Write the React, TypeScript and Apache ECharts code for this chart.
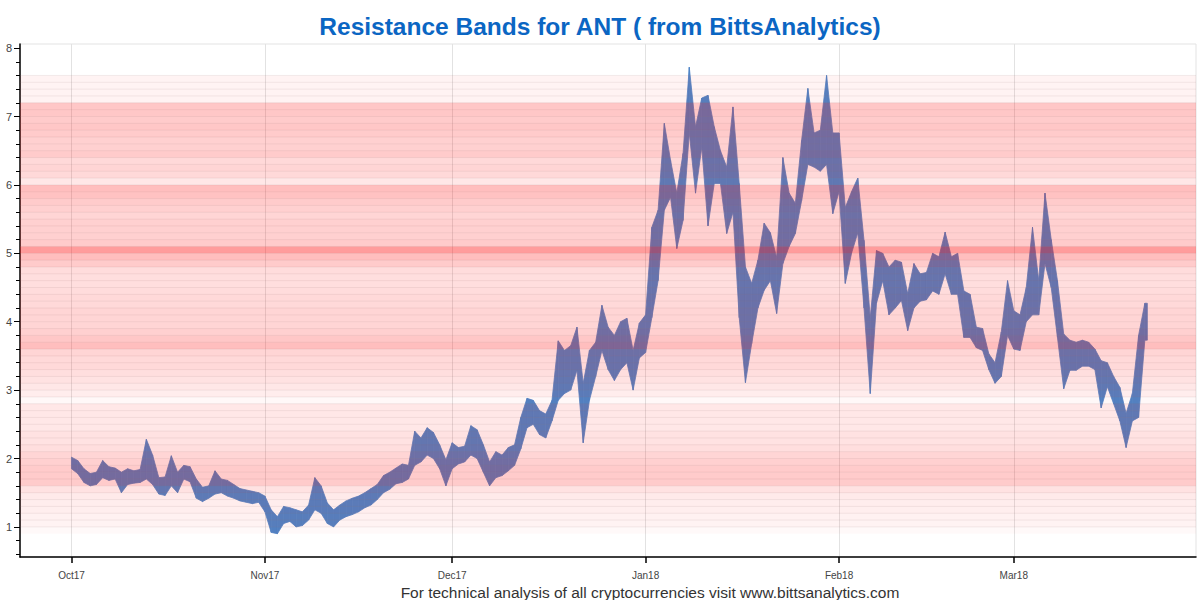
import React, { useEffect, useRef } from "react";
import * as echarts from "echarts";

const DAY = 86400000;
const START = Date.UTC(2017, 9, 1);
const X_MIN = START - 8.25 * DAY;
const X_MAX = START + 180.2 * DAY;

const TITLE = "Resistance Bands for ANT ( from BittsAnalytics)";
const FOOTER = "For technical analysis of all cryptocurrencies visit www.bittsanalytics.com";

// Month tick positions and labels
const monthTicks = [
  Date.UTC(2017, 9, 1),
  Date.UTC(2017, 10, 1),
  Date.UTC(2017, 11, 1),
  Date.UTC(2018, 0, 1),
  Date.UTC(2018, 1, 1),
  Date.UTC(2018, 2, 1),
];
const monthLabels = ["Oct17", "Nov17", "Dec17", "Jan18", "Feb18", "Mar18"];

const yLabels = [1, 2, 3, 4, 5, 6, 7, 8];
const yMinorTicks = [
  0.6, 0.8, 1.0, 1.2, 1.4, 1.6, 1.8, 2.0, 2.2, 2.4, 2.6, 2.8, 3.0, 3.2, 3.4, 3.6, 3.8,
  4.0, 4.2, 4.4, 4.6, 4.8, 5.0, 5.2, 5.4, 5.6, 5.8, 6.0, 6.2, 6.4, 6.6, 6.8, 7.0, 7.2,
  7.4, 7.6, 7.8, 8.0,
];

// Daily low / high of ANT price (USD), one entry per day starting 1 Oct 2017
const dailyLow = [
  1.85, 1.78, 1.65, 1.60, 1.62, 1.72, 1.68, 1.70, 1.50, 1.62,
  1.64, 1.65, 1.70, 1.62, 1.48, 1.46, 1.60, 1.50, 1.70, 1.66,
  1.42, 1.37, 1.42, 1.48, 1.50, 1.45, 1.42, 1.38, 1.36, 1.34,
  1.36, 1.22, 0.92, 0.90, 1.05, 1.08, 1.00, 1.02, 1.10, 1.25,
  1.20, 1.05, 1.00, 1.10, 1.15, 1.18, 1.22, 1.28, 1.32, 1.40,
  1.50, 1.55, 1.63, 1.65, 1.70, 1.90, 1.95, 2.05, 2.00, 1.85,
  1.60, 1.85, 1.92, 1.95, 2.05, 2.00, 1.80, 1.60, 1.72, 1.75,
  1.82, 1.90, 2.14, 2.45, 2.50, 2.35, 2.30, 2.55, 2.85, 2.95,
  3.00, 3.29, 2.23, 2.85, 3.20, 3.58, 3.30, 3.14, 3.30, 3.40,
  3.00, 3.47, 3.55, 4.06, 4.60, 5.63, 5.82, 5.07, 5.48, 6.76,
  5.88, 6.55, 5.40, 6.02, 6.02, 5.29, 5.60, 4.06, 3.11, 3.68,
  4.20, 4.46, 4.60, 4.12, 4.85, 5.10, 5.29, 5.77, 6.30, 6.26,
  6.20, 6.30, 5.58, 5.90, 4.56, 5.00, 5.30, 4.20, 2.95, 4.27,
  4.60, 4.10, 4.20, 4.31, 3.87, 4.20, 4.30, 4.32, 4.45, 4.40,
  4.70, 4.40, 4.40, 3.77, 3.77, 3.62, 3.58, 3.30, 3.10, 3.20,
  3.80, 3.60, 3.58, 4.00, 4.10, 4.10, 4.85, 4.50, 3.77, 3.02,
  3.29, 3.29, 3.35, 3.35, 3.30, 2.74, 3.05, 2.80, 2.55, 2.16,
  2.55, 2.60, 3.73,
];
const dailyHigh = [
  2.02, 1.97, 1.85, 1.78, 1.80, 1.97, 1.88, 1.86, 1.80, 1.85,
  1.82, 1.84, 2.28, 2.05, 1.72, 1.73, 2.04, 1.80, 1.90, 1.88,
  1.70, 1.58, 1.60, 1.82, 1.70, 1.68, 1.62, 1.56, 1.54, 1.52,
  1.50, 1.45, 1.25, 1.15, 1.30, 1.28, 1.25, 1.22, 1.32, 1.72,
  1.60, 1.35, 1.25, 1.32, 1.38, 1.42, 1.45, 1.50, 1.56, 1.62,
  1.75, 1.80, 1.86, 1.92, 1.90, 2.40, 2.30, 2.45, 2.38, 2.20,
  1.98, 2.23, 2.16, 2.18, 2.48, 2.42, 2.20, 1.95, 2.10, 2.05,
  2.16, 2.20, 2.60, 2.88, 2.85, 2.70, 2.65, 2.85, 3.72, 3.58,
  3.65, 3.92, 3.10, 3.58, 3.70, 4.24, 3.92, 3.80, 4.00, 4.05,
  3.58, 3.98, 4.10, 5.38, 5.63, 6.90, 6.36, 5.88, 6.46, 7.72,
  6.85, 7.27, 7.31, 6.85, 6.50, 6.26, 7.14, 6.02, 4.80, 4.56,
  4.90, 5.44, 5.30, 4.94, 6.40, 5.88, 5.73, 6.65, 7.41, 6.76,
  6.80, 7.60, 6.76, 6.76, 5.67, 5.90, 6.10, 5.19, 4.06, 5.04,
  5.00, 4.80, 4.90, 4.87, 4.41, 4.85, 4.70, 4.72, 5.00, 4.95,
  5.31, 4.95, 5.00, 4.45, 4.40, 3.92, 3.90, 3.53, 3.40, 3.85,
  4.60, 4.16, 4.10, 4.50, 5.38, 4.60, 5.88, 5.20, 4.60, 3.82,
  3.73, 3.70, 3.73, 3.70, 3.60, 3.43, 3.40, 3.20, 3.04, 2.66,
  2.95, 3.80, 4.27,
];

// Resistance bands: lower edge of each 0.1-wide band and its strength (opacity)
const bandLower = [
  0.9, 1.0, 1.1, 1.2, 1.3, 1.4, 1.5, 1.6, 1.7, 1.8, 1.9, 2.0, 2.1, 2.2, 2.3, 2.4,
  2.5, 2.6, 2.7, 2.8, 2.9, 3.0, 3.1, 3.2, 3.3, 3.4, 3.5, 3.6, 3.7, 3.8, 3.9, 4.0,
  4.1, 4.2, 4.3, 4.4, 4.5, 4.6, 4.7, 4.8, 4.9, 5.0, 5.1, 5.2, 5.3, 5.4, 5.5, 5.6,
  5.7, 5.8, 5.9, 6.0, 6.1, 6.2, 6.3, 6.4, 6.5, 6.6, 6.7, 6.8, 6.9, 7.0, 7.1, 7.2,
  7.3, 7.4, 7.5,
];
const bandStrength = [
  0.025, 0.05, 0.06, 0.07, 0.08, 0.09, 0.12, 0.22, 0.22, 0.22, 0.2, 0.18, 0.14, 0.12, 0.12, 0.1,
  0.1, 0.1, 0.1, 0.03, 0.08, 0.1, 0.12, 0.14, 0.16, 0.16, 0.18, 0.28, 0.24, 0.2, 0.18, 0.18,
  0.18, 0.16, 0.16, 0.15, 0.14, 0.14, 0.15, 0.22, 0.28, 0.42, 0.22, 0.2, 0.2, 0.2, 0.18, 0.2,
  0.22, 0.26, 0.28, 0.1, 0.16, 0.18, 0.16, 0.22, 0.2, 0.2, 0.22, 0.24, 0.22, 0.24, 0.24, 0.05,
  0.05, 0.05, 0.05,
];

const FONT = "Liberation Sans, Arial, sans-serif";
const PRICE_COLOR = "rgb(78,132,198)";

export default function App() {
  const ref = useRef<HTMLDivElement>(null);

  useEffect(() => {
    if (!ref.current) return;
    const chart = echarts.init(ref.current, undefined, { renderer: "svg" });

    const priceData = dailyLow.map((lo, i) => [START + i * DAY, lo, dailyHigh[i]]);
    const bandData = bandLower.map((lo, i) => [X_MIN, lo, +(lo + 0.1).toFixed(2), bandStrength[i]]);

    const option: any = {
      animation: false,
      backgroundColor: "#ffffff",
      title: {
        text: TITLE,
        left: "center",
        top: 9,
        textStyle: { fontFamily: FONT, fontSize: 24.5, fontWeight: "bold", color: "#0b66c3" },
      },
      grid: {
        left: 20,
        right: 4,
        top: 44,
        bottom: 43,
        show: true,
        borderColor: "#e3e3e3",
        borderWidth: 1,
        backgroundColor: "transparent",
        outerBoundsMode: "none",
      },
      xAxis: {
        type: "value",
        min: X_MIN,
        max: X_MAX,
        axisLine: { show: true, onZero: false, lineStyle: { color: "#000", width: 1.5 } },
        axisTick: { show: true, customValues: monthTicks, length: 6, lineStyle: { color: "#000", width: 1.5 } },
        axisLabel: {
          customValues: monthTicks,
          margin: 13,
          fontSize: 10,
          color: "#444",
          fontFamily: FONT,
          formatter: (v: number) => {
            const idx = monthTicks.indexOf(v);
            return idx >= 0 ? monthLabels[idx] : "";
          },
        },
        splitLine: { show: true, lineStyle: { color: "#e2e2e2", width: 1 } },
      },
      yAxis: [
        {
          type: "value",
          min: 0.56,
          max: 8.06,
          axisLine: { show: true, onZero: false, lineStyle: { color: "#000", width: 1.5 } },
          axisTick: { show: true, customValues: yLabels, length: 6, lineStyle: { color: "#000", width: 1 } },
          axisLabel: { customValues: yLabels, margin: 8, fontSize: 11, color: "#444", fontFamily: FONT },
          splitLine: { show: false },
        },
        {
          type: "value",
          min: 0.56,
          max: 8.06,
          position: "left",
          axisLine: { show: false },
          axisTick: { show: true, customValues: yMinorTicks, length: 4, lineStyle: { color: "#000", width: 1 } },
          axisLabel: { show: false },
          splitLine: { show: false },
        },
      ],
      series: [
        {
          type: "custom",
          name: "price",
          z: 2,
          clip: true,
          data: priceData,
          encode: { x: 0, y: [1, 2] },
          renderItem: (params: any, api: any) => {
            const i = params.dataIndex;
            const t = api.value(0);
            const lo = api.value(1);
            const hi = api.value(2);
            const j = Math.min(i + 1, dailyLow.length - 1);
            const t2 = j === i ? t + DAY * 0.4 : t + DAY;
            const pts = [
              api.coord([t, hi]),
              api.coord([t2, dailyHigh[j]]),
              api.coord([t2, dailyLow[j]]),
              api.coord([t, lo]),
            ];
            return {
              type: "polygon",
              shape: { points: pts },
              style: { fill: PRICE_COLOR, stroke: PRICE_COLOR, lineWidth: 0.8 },
            };
          },
        },
        {
          type: "custom",
          name: "bands",
          z: 3,
          silent: true,
          data: bandData,
          encode: { x: 0, y: [1, 2] },
          renderItem: (params: any, api: any) => {
            const cs = params.coordSys;
            const lo = api.value(1);
            const hi = api.value(2);
            const s = api.value(3);
            const yTop = api.coord([X_MIN, hi])[1];
            const yBot = api.coord([X_MIN, lo])[1];
            return {
              type: "group",
              children: [
                {
                  type: "rect",
                  shape: { x: cs.x, y: yTop, width: cs.width, height: yBot - yTop },
                  style: { fill: `rgba(255,20,20,${s})` },
                },
                {
                  type: "line",
                  shape: { x1: cs.x, y1: yTop, x2: cs.x + cs.width, y2: yTop },
                  style: { stroke: "rgba(150,120,120,0.12)", lineWidth: 1 },
                },
              ],
            };
          },
        },
      ],
      graphic: [
        {
          type: "text",
          x: 650,
          y: 592,
          style: {
            text: FOOTER,
            textAlign: "center",
            textVerticalAlign: "middle",
            fontSize: 15.5,
            fontFamily: FONT,
            fill: "#333",
          },
        },
      ],
    };

    chart.setOption(option);
    return () => chart.dispose();
  }, []);

  return (
    <div
      ref={ref}
      style={{ position: "fixed", left: 0, top: 0, width: 1200, height: 600, background: "#fff" }}
    />
  );
}
